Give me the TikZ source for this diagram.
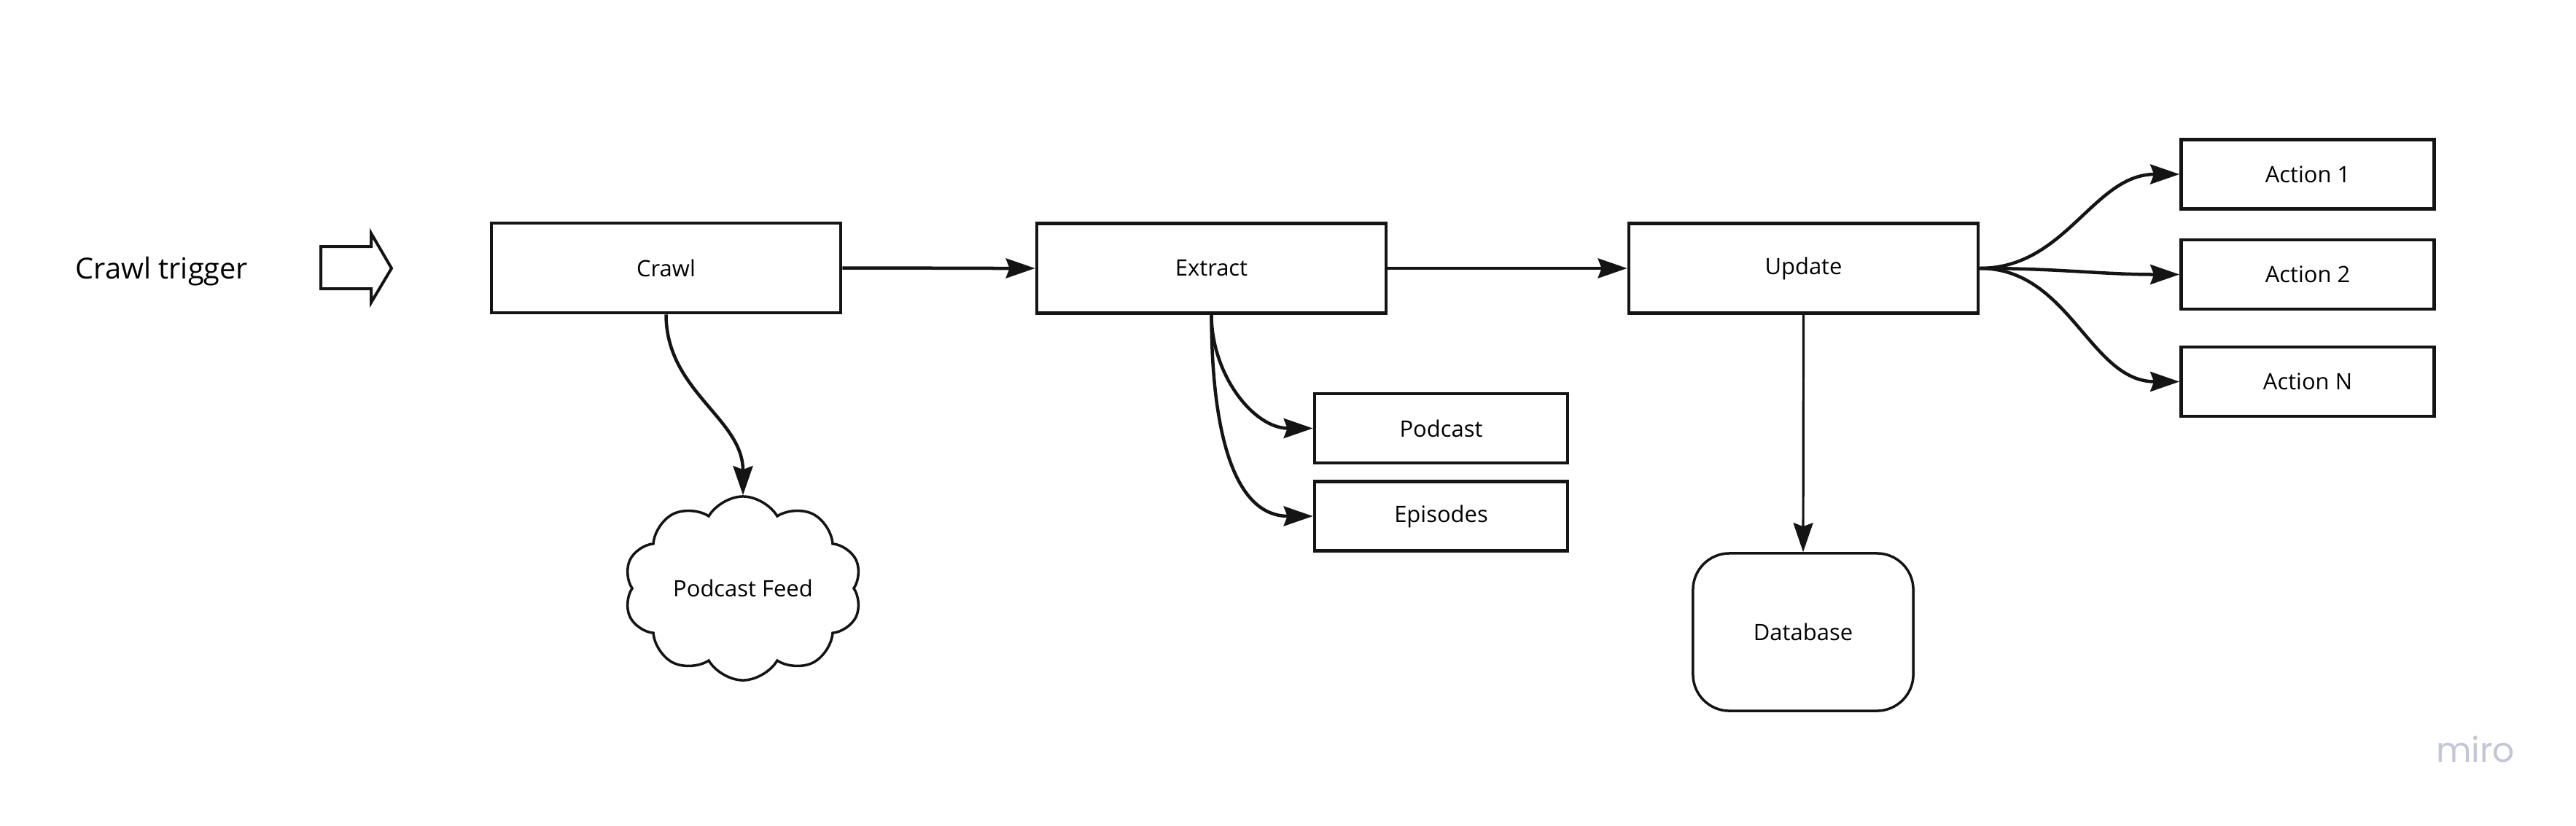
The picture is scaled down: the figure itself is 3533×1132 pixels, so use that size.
\documentclass[tikz,border=0pt]{standalone}
\usepackage{fontspec}
\setmainfont{Open Sans}
\newfontfamily\miroFont{Poppins}
\usetikzlibrary{arrows.meta, positioning, shapes.symbols}
\definecolor{CInk}{HTML}{141414}
\definecolor{CMiro}{HTML}{C4C5D6}

\begin{document}
\begin{tikzpicture}[x=0.01cm, y=0.01cm,
  box/.style={draw=CInk, line width=0.045cm, minimum width=4.79cm, minimum height=1.23cm,
    inner sep=0pt, font=\fontsize{8.8}{10}\selectfont},
  smallbox/.style={box, minimum width=3.47cm, minimum height=0.95cm},
  store/.style={box, line width=0.035cm, rounded corners=0.5cm, minimum width=3.02cm, minimum height=2.16cm},
  feedcloud/.style={cloud, cloud puffs=10, cloud puff arc=120, aspect=1.3, draw=CInk, line width=0.035cm,
    minimum width=3.26cm, minimum height=2.52cm, inner sep=0pt, font=\fontsize{8.8}{10}\selectfont},
  flow/.style={CInk, line width=0.045cm, -{Stealth[length=0.4cm, width=0.27cm, inset=0.05cm]}},
  thinflow/.style={flow, line width=0.032cm}]
  % --- CANVAS ---
  \useasboundingbox (0,0) rectangle (3533,-1132);

  % =====================================================================
  % 1. TRIGGER
  % =====================================================================
  \node[anchor=base, font=\fontsize{11.3}{13}\selectfont] (trigger) at (222,-382) {Crawl trigger};
  % Hollow arrow
  \draw[CInk, line width=0.04cm] (440,-338) -- (509,-338) -- (509,-320) -- (537,-368)
    -- (509,-415) -- (509,-396) -- (440,-396) -- cycle;

  % =====================================================================
  % 2. PIPELINE STEPS
  % =====================================================================
  \node[box] (crawl) at (913.5,-367.5) {Crawl};
  \node[box] (extract) at (1661.5,-368) {Extract};
  \node[box] (update) at (2473.5,-368) {Update};

  % Feed
  \node[feedcloud] (feed) at (1019,-807) {Podcast Feed};

  % Extracted records
  \node[smallbox] (podcast) at (1976.5,-587.5) {Podcast};
  \node[smallbox] (episodes) at (1976.5,-708) {Episodes};

  % Actions
  \node[smallbox] (action1) at (3165,-239) {Action 1};
  \node[smallbox] (action2) at (3165,-376.5) {Action 2};
  \node[smallbox] (actionN) at (3165,-523.5) {Action N};

  % Storage
  \node[store] (database) at (2473,-867) {Database};

  % =====================================================================
  % 3. CONNECTORS
  % =====================================================================
  \draw[flow] (crawl.east) to[out=0, in=180] (extract.west);
  \draw[flow] (extract.east) -- (update.west);
  \draw[flow] (crawl.south) to[out=-90, in=90] (feed.north);
  \draw[flow] (extract.south) to[out=-90, in=180] (podcast.west);
  \draw[flow] (extract.south) to[out=-90, in=180] (episodes.west);
  \draw[flow] (update.east) to[out=0, in=180] (action1.west);
  \draw[flow] (update.east) to[out=0, in=180] (action2.west);
  \draw[flow] (update.east) to[out=0, in=180] (actionN.west);
  \draw[thinflow] (update.south) -- (database.north);

  % Watermark
  \node[font=\miroFont\fontsize{13.4}{15}\selectfont, text=CMiro] (miro) at (3395,-1028) {miro};

\end{tikzpicture}
\end{document}
